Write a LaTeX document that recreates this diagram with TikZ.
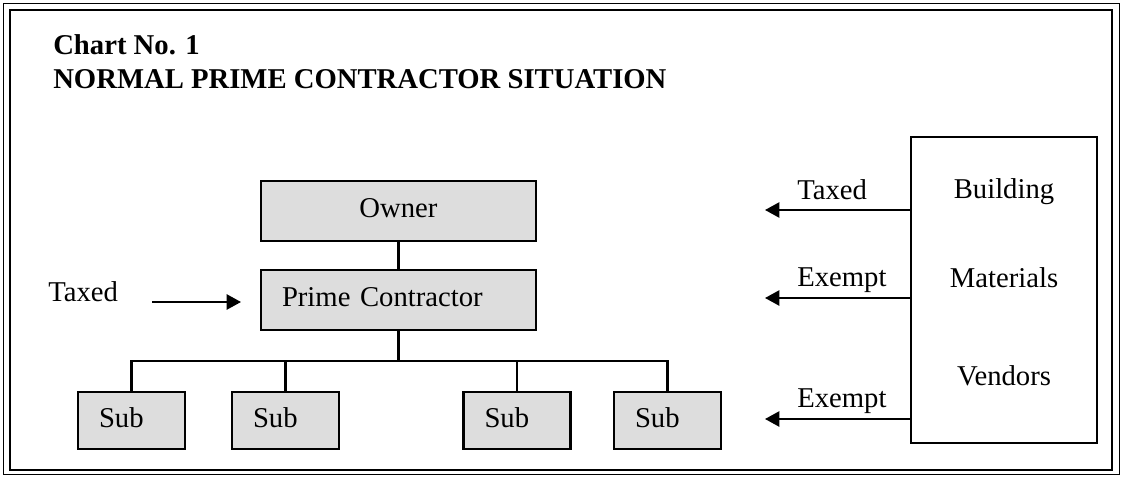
\documentclass[tikz,border=0pt]{standalone}
\usepackage{fontspec}
\setmainfont{Liberation Serif}
\usetikzlibrary{arrows.meta}
\definecolor{boxgray}{HTML}{DDDDDD}

\begin{document}
\begin{tikzpicture}[
	font=\fontsize{20.4}{24}\selectfont,
	party/.style={draw, fill=boxgray, line width=1.7pt, text height=0.475cm, text depth=0.15cm, inner xsep=0.525cm, align=left},
	sub/.style={party, minimum width=2.675cm, minimum height=1.425cm, text width=1.625cm},
	flow/.style={line width=1.5pt, -{Triangle[length=0.36cm, width=0.38cm]}},
	lbl/.style={anchor=base west, inner sep=0pt},
	]
	\useasboundingbox (0,0) rectangle (28.05,-11.925);
	\draw[line width=0.7pt] (0.075,-0.075) rectangle (27.975,-11.85);
	\draw[line width=2pt] (0.25,-0.25) rectangle (27.8,-11.75);

	\node[lbl, font=\fontsize{20.4}{24}\selectfont\bfseries] (chart) at (1.325,-1.375) {Chart No. 1};
	\node[lbl, font=\fontsize{20.4}{24}\selectfont\bfseries] (title) at (1.325,-2.225) {NORMAL PRIME CONTRACTOR SITUATION};

	\node[party, align=center, minimum width=6.875cm, minimum height=1.5cm, text width=5.825cm] (owner) at (9.9625,-5.275) {Owner};
	\node[party, minimum width=6.875cm, minimum height=1.5cm, text width=5.825cm] (prime) at (9.9625,-7.5) {Prime Contractor};

	\node[sub] (sub1) at (3.2875,-10.5125) {Sub};
	\node[sub] (sub2) at (7.1375,-10.5125) {Sub};
	\node[sub] (sub3) at (12.925,-10.5125) {Sub};
	\node[sub] (sub4) at (16.6875,-10.5125) {Sub};

	\coordinate (split) at (9.9625,-9.025);
	\draw[line width=1.5pt] (owner) -- (prime);
	\draw[line width=1.5pt] (prime) -- (split);
	\draw[line width=1.5pt] (sub1.north) |- (split) -| (sub4.north);
	\draw[line width=1.5pt] (sub2.north) -- (sub2.north |- split);
	\draw[line width=1.5pt] (sub3.north) -- (sub3.north |- split);

	\node[lbl] (taxin) at (1.2,-7.525) {Taxed};
	\coordinate (taxfrom) at (3.8,-7.55);
	\coordinate (taxto) at (6.025,-7.55);
	\draw[flow] (taxfrom) -- (taxto);

	\node[draw, line width=1.7pt, minimum width=4.65cm, minimum height=7.65cm] (vendor) at (25.1,-7.25) {};
	\node[anchor=base, inner sep=0pt] (building) at (25.1,-4.95) {Building};
	\node[anchor=base, inner sep=0pt] (materials) at (25.1,-7.175) {Materials};
	\node[anchor=base, inner sep=0pt] (vendors) at (25.1,-9.625) {Vendors};

	\coordinate (tip1) at (19.125,-5.25);
	\coordinate (tip2) at (19.125,-7.45);
	\coordinate (tip3) at (19.125,-10.475);
	\draw[flow] (vendor.west |- tip1) -- (tip1);
	\draw[flow] (vendor.west |- tip2) -- (tip2);
	\draw[flow] (vendor.west |- tip3) -- (tip3);
	\node[lbl] (taxed) at (19.925,-4.975) {Taxed};
	\node[lbl] (exempt1) at (19.925,-7.15) {Exempt};
	\node[lbl] (exempt2) at (19.925,-10.175) {Exempt};
\end{tikzpicture}
\end{document}
